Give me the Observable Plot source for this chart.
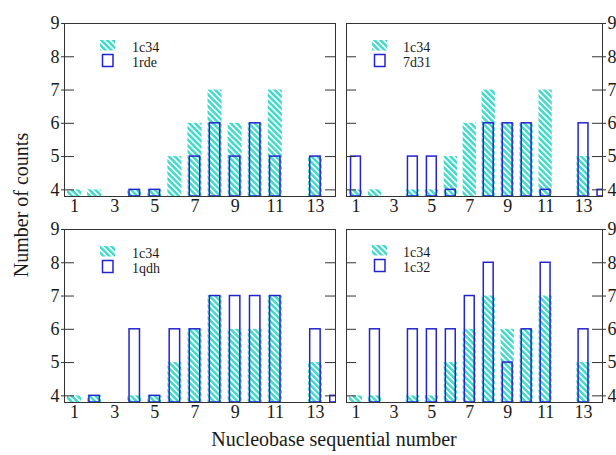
<!DOCTYPE html>
<html>
<head>
<meta charset="utf-8">
<script src="https://cdn.jsdelivr.net/npm/d3@7"></script>
<script src="https://cdn.jsdelivr.net/npm/@observablehq/plot@0.6"></script>
<style>
  html, body { margin: 0; padding: 0; background: #fff; }
  #wrap { position: relative; width: 616px; height: 455px; overflow: hidden; background: #fff;
          font-family: 'Liberation Serif', 'Times New Roman', serif; }
  #wrap svg.panel { position: absolute; }
</style>
</head>
<body>
<svg width="0" height="0" style="position:absolute">
  <defs>
    <pattern id="hatch" patternUnits="userSpaceOnUse" width="4.2" height="4.2" patternTransform="rotate(-45)">
      <rect width="4.2" height="4.2" fill="#ffffff"/>
      <rect width="2.5" height="4.2" fill="#3fdcca"/>
    </pattern>
  </defs>
</svg>
<div id="wrap"></div>
<script>
// ---- data ----
const nucleobases = [1,2,3,4,5,6,7,8,9,10,11,12,13,14];
const c1c34 = [4,4,null,4,4,5,6,7,6,6,7,null,5,null];
const c1rde = [null,null,null,4,4,null,5,6,5,6,5,null,5,null];
const c7d31 = [5,null,null,5,5,4,null,6,6,6,4,null,6,4];
const c1qdh = [null,4,null,6,4,6,6,7,7,7,7,null,6,4];
const c1c32 = [null,6,null,6,6,6,7,8,5,6,8,null,6,null];
const referenceName = "1c34";
const compareNames = ["1rde","7d31","1qdh","1c32"];
const compareSeries = [c1rde, c7d31, c1qdh, c1c32];
const xTicks = [1,3,5,7,9,11,13];
const yTicks = [4,5,6,7,8,9];
const xTitle = "Nucleobase sequential number";
const yTitle = "Number of counts";

// ---- layout ----
const xDomain = [0.5, 14];
const yDomain = [3.8, 9];
const hatchHalf = 0.35, outlineHalf = 0.26;
const blue = "#2323cf";
const fontFamily = "'Liberation Serif', 'Times New Roman', serif";

const panels = [
  {left: 64, top: 23, w: 271, h: 173, side: "left"},
  {left: 346, top: 23, w: 256, h: 173, side: "right"},
  {left: 64, top: 229, w: 271, h: 173, side: "left"},
  {left: 346, top: 229, w: 256, h: 173, side: "right"}
];

const wrap = document.getElementById("wrap");
const toRows = (vals) => nucleobases.map((n, i) => ({x: n, v: vals[i]})).filter(d => d.v != null);

panels.forEach((p, i) => {
  const mL = p.side === "left" ? 64 : 5;
  const mR = p.side === "left" ? 5 : 20;
  const mT = 10, mB = 26;
  const ref = toRows(c1c34);
  const cmp = toRows(compareSeries[i]);
  const chart = Plot.plot({
    width: p.w + mL + mR,
    height: p.h + mT + mB,
    marginLeft: mL, marginRight: mR, marginTop: mT, marginBottom: mB,
    style: {fontFamily, fontSize: "18px", color: "#1a1a1a", background: "transparent", overflow: "visible"},
    x: {domain: xDomain, ticks: xTicks},
    y: {domain: yDomain, ticks: yTicks},
    marks: [
      Plot.rect(ref, {x1: d => d.x - hatchHalf, x2: d => d.x + hatchHalf, y1: yDomain[0], y2: "v",
        fill: "url(#hatch)", clip: "frame"}),
      Plot.rect(cmp, {x1: d => d.x - outlineHalf, x2: d => d.x + outlineHalf, y1: yDomain[0], y2: "v",
        fill: "none", stroke: blue, strokeWidth: 1.5, clip: "frame"}),
      Plot.tickY(yTicks, {y: d => d, stroke: "#333", insetRight: p.w - 10}),
      Plot.tickY(yTicks, {y: d => d, stroke: "#333", insetLeft: p.w - 10}),
      Plot.frame({stroke: "#333", strokeWidth: 1}),
      Plot.axisX({ticks: xTicks, tickSize: 0, tickPadding: 3, label: null, tickFormat: d => d}),
      Plot.axisY({anchor: p.side, ticks: yTicks, tickSize: 3, tickPadding: 2, label: null, tickFormat: d => d, stroke: "#333"})
    ]
  });
  chart.classList.add("panel");
  chart.style.left = (p.left - mL) + "px";
  chart.style.top = (p.top - mT) + "px";
  wrap.appendChild(chart);
});

// ---- overlay: legends and axis titles ----
const ov = d3.select(wrap).append("svg")
  .attr("width", 616).attr("height", 455)
  .style("position", "absolute").style("left", "0px").style("top", "0px")
  .style("font-family", fontFamily);

const legendPos = [
  {sx: 100, tx: 132, y: 40},
  {sx: 372, tx: 403, y: 40},
  {sx: 100, tx: 132, y: 246},
  {sx: 372, tx: 403, y: 245}
];
legendPos.forEach((L, i) => {
  ov.append("rect").attr("x", L.sx).attr("y", L.y).attr("width", 15).attr("height", 10.5)
    .attr("fill", "url(#hatch)");
  ov.append("rect").attr("x", L.sx + 2.5).attr("y", L.y + 14.5).attr("width", 10.5).attr("height", 12)
    .attr("fill", "none").attr("stroke", blue).attr("stroke-width", 1.5);
  ov.append("text").attr("x", L.tx).attr("y", L.y + 12).attr("font-size", 14).attr("fill", "#1a1a1a")
    .text(referenceName);
  ov.append("text").attr("x", L.tx).attr("y", L.y + 26.5).attr("font-size", 14).attr("fill", "#1a1a1a")
    .text(compareNames[i]);
});

ov.append("text").attr("x", 334).attr("y", 446).attr("text-anchor", "middle")
  .attr("font-size", 20).attr("fill", "#1a1a1a").text(xTitle);
ov.append("text").attr("transform", "translate(28,205) rotate(-90)").attr("text-anchor", "middle")
  .attr("font-size", 20).attr("fill", "#1a1a1a").text(yTitle);
</script>
</body>
</html>
